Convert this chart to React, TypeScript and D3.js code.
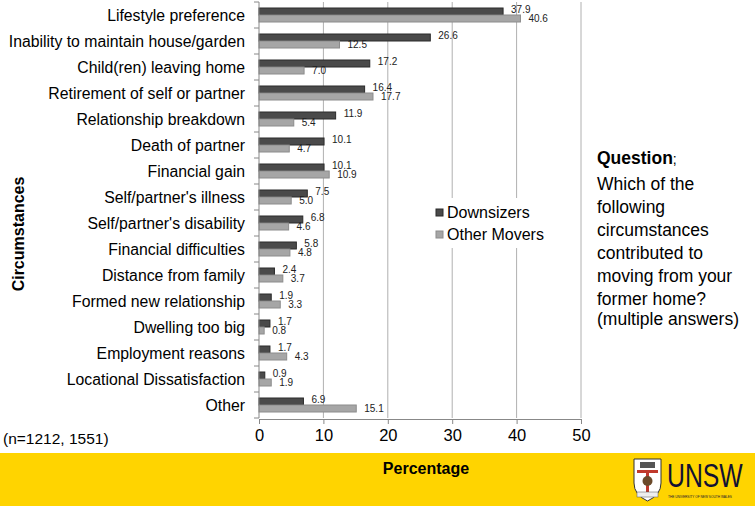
import { useEffect, useRef } from "react";
import * as d3 from "d3";

const categories = [
  "Lifestyle preference",
  "Inability to maintain house/garden",
  "Child(ren) leaving home",
  "Retirement of self or partner",
  "Relationship breakdown",
  "Death of partner",
  "Financial gain",
  "Self/partner's illness",
  "Self/partner's disability",
  "Financial difficulties",
  "Distance from family",
  "Formed new relationship",
  "Dwelling too big",
  "Employment reasons",
  "Locational Dissatisfaction",
  "Other",
];
const downsizers = [37.9, 26.6, 17.2, 16.4, 11.9, 10.1, 10.1, 7.5, 6.8, 5.8, 2.4, 1.9, 1.7, 1.7, 0.9, 6.9];
const otherMovers = [40.6, 12.5, 7.0, 17.7, 5.4, 4.7, 10.9, 5.0, 4.6, 4.8, 3.7, 3.3, 0.8, 4.3, 1.9, 15.1];
const xTicks = [0, 10, 20, 30, 40, 50];
const seriesNames = ["Downsizers", "Other Movers"];
const questionLines = [
  "Which of the",
  "following",
  "circumstances",
  "contributed to",
  "moving from your",
  "former home?",
];

const FONT = "'Liberation Sans', Arial, sans-serif";

export default function App() {
  const ref = useRef<SVGSVGElement>(null);

  useEffect(() => {
    if (!ref.current) return;
    const svg = d3.select(ref.current);
    svg.selectAll("*").remove();

    const width = 755;
    const height = 506;
    const margin = { top: 2, left: 259, right: 174, bottom: 88 };

    svg.attr("width", width).attr("height", height).style("font-family", FONT);

    svg.append("rect").attr("width", width).attr("height", height).attr("fill", "#fff");

    const x = d3.scaleLinear().domain([0, 50]).range([margin.left, width - margin.right]);
    const y = d3
      .scaleBand()
      .domain(categories)
      .range([margin.top, height - margin.bottom]);

    const bottom = height - margin.bottom;

    // gridlines
    svg
      .append("g")
      .selectAll("line")
      .data(xTicks.slice(1))
      .enter()
      .append("line")
      .attr("x1", (d) => x(d))
      .attr("x2", (d) => x(d))
      .attr("y1", margin.top)
      .attr("y2", bottom)
      .attr("stroke", "#b0b0b0")
      .attr("stroke-width", 1);

    // bars
    const half = 7;
    const g = svg.append("g");
    categories.forEach((c, i) => {
      const cy = (y(c) || 0) + y.bandwidth() / 2;
      g.append("rect")
        .attr("x", x(0))
        .attr("y", cy - half)
        .attr("width", x(downsizers[i]) - x(0))
        .attr("height", half)
        .attr("fill", "#4a4a4a")
        .attr("stroke", "#2a2a2a")
        .attr("stroke-width", 1);
      g.append("rect")
        .attr("x", x(0))
        .attr("y", cy)
        .attr("width", x(otherMovers[i]) - x(0))
        .attr("height", half)
        .attr("fill", "#a6a6a6")
        .attr("stroke", "#8c8c8c")
        .attr("stroke-width", 1);

      g.append("text")
        .attr("x", x(downsizers[i]) + 8)
        .attr("y", cy - 2)
        .attr("font-size", 10)
        .attr("fill", "#222")
        .text(downsizers[i].toFixed(1));
      g.append("text")
        .attr("x", x(otherMovers[i]) + 8)
        .attr("y", cy + 7)
        .attr("font-size", 10)
        .attr("fill", "#222")
        .text(otherMovers[i].toFixed(1));
    });

    // y axis
    svg
      .append("line")
      .attr("x1", x(0))
      .attr("x2", x(0))
      .attr("y1", margin.top)
      .attr("y2", bottom)
      .attr("stroke", "#888");
    const boundaries = categories.map((c) => y(c) || 0).concat([bottom]);
    svg
      .append("g")
      .selectAll("line")
      .data(boundaries)
      .enter()
      .append("line")
      .attr("x1", x(0) - 5)
      .attr("x2", x(0))
      .attr("y1", (d) => d)
      .attr("y2", (d) => d)
      .attr("stroke", "#888");

    svg
      .append("g")
      .selectAll("text")
      .data(categories)
      .enter()
      .append("text")
      .attr("x", 245)
      .attr("y", (d) => (y(d) || 0) + y.bandwidth() / 2 + 5.5)
      .attr("text-anchor", "end")
      .attr("font-size", 15.8)
      .attr("fill", "#000")
      .text((d) => d);

    // x axis
    const xAxis = svg
      .append("g")
      .attr("transform", `translate(0,${bottom + 1})`)
      .call(d3.axisBottom(x).tickValues(xTicks).tickSize(5).tickSizeOuter(0));
    xAxis.select(".domain").attr("stroke", "#888");
    xAxis.selectAll(".tick line").attr("stroke", "#888");
    xAxis
      .selectAll(".tick text")
      .attr("font-size", 16.5)
      .attr("font-family", FONT)
      .attr("fill", "#000")
      .attr("dy", "0.85em");

    svg
      .append("text")
      .attr("x", 3)
      .attr("y", 444)
      .attr("font-size", 15.5)
      .text("(n=1212, 1551)");

    svg
      .append("text")
      .attr("transform", "translate(24,234) rotate(-90)")
      .attr("text-anchor", "middle")
      .attr("font-size", 16)
      .attr("font-weight", "bold")
      .text("Circumstances");

    // legend
    const legend = svg.append("g").attr("transform", "translate(428,198)");
    legend.append("rect").attr("width", 124).attr("height", 50).attr("fill", "#fff");
    seriesNames.forEach((name, i) => {
      const row = legend.append("g").attr("transform", `translate(8,${11 + i * 22})`);
      row
        .append("rect")
        .attr("width", 7)
        .attr("height", 7)
        .attr("fill", i === 0 ? "#4a4a4a" : "#a6a6a6")
        .attr("stroke", i === 0 ? "#2a2a2a" : "#8c8c8c");
      row
        .append("text")
        .attr("x", 11)
        .attr("y", 8.5)
        .attr("font-size", 16)
        .attr("fill", "#000")
        .text(name);
    });

    // question block
    const q = svg.append("text").attr("x", 597).attr("y", 164).attr("font-size", 17.5);
    q.append("tspan").attr("font-weight", "bold").text("Question");
    q.append("tspan").attr("font-size", 14).text(";");
    questionLines.forEach((line, i) => {
      svg
        .append("text")
        .attr("x", 597)
        .attr("y", 190 + i * 23)
        .attr("font-size", 17.5)
        .text(line);
    });
    svg.append("text").attr("x", 597).attr("y", 325).attr("font-size", 17.5).text("(multiple answers)");

    // footer band
    svg.append("rect").attr("x", 0).attr("y", 453).attr("width", width).attr("height", 53).attr("fill", "#ffd400");
    svg
      .append("text")
      .attr("x", 426)
      .attr("y", 474)
      .attr("text-anchor", "middle")
      .attr("font-size", 16)
      .attr("font-weight", "bold")
      .text("Percentage");

    // UNSW logo (simplified)
    const logo = svg.append("g").attr("transform", "translate(634,459)");
    logo
      .append("path")
      .attr("d", "M0,0 H27 V24 Q27,36 13.5,42 Q0,36 0,24 Z")
      .attr("fill", "#fff")
      .attr("stroke", "#333")
      .attr("stroke-width", 1);
    logo.append("rect").attr("x", 6).attr("y", 3).attr("width", 15).attr("height", 6).attr("fill", "#555");
    logo.append("rect").attr("x", 3).attr("y", 11).attr("width", 21).attr("height", 3).attr("fill", "#c0392b");
    logo.append("rect").attr("x", 12).attr("y", 11).attr("width", 3).attr("height", 26).attr("fill", "#c0392b");
    logo.append("circle").attr("cx", 13.5).attr("cy", 22).attr("r", 5).attr("fill", "#6b4a2a");
    logo
      .append("rect")
      .attr("x", 3)
      .attr("y", 33)
      .attr("width", 21)
      .attr("height", 5)
      .attr("fill", "#eee")
      .attr("stroke", "#555")
      .attr("stroke-width", 0.5);

    svg
      .append("text")
      .attr("transform", "translate(667,487) scale(0.8,1.08)")
      .attr("font-size", 31)
      .attr("fill", "#111133")
      .text("UNSW");
    svg
      .append("text")
      .attr("transform", "translate(668,498) scale(0.8,1)")
      .attr("font-size", 4)
      .attr("fill", "#111133")
      .text("THE UNIVERSITY OF NEW SOUTH WALES");
  }, []);

  return <svg ref={ref} style={{ position: "absolute", left: 0, top: 0 }} />;
}
